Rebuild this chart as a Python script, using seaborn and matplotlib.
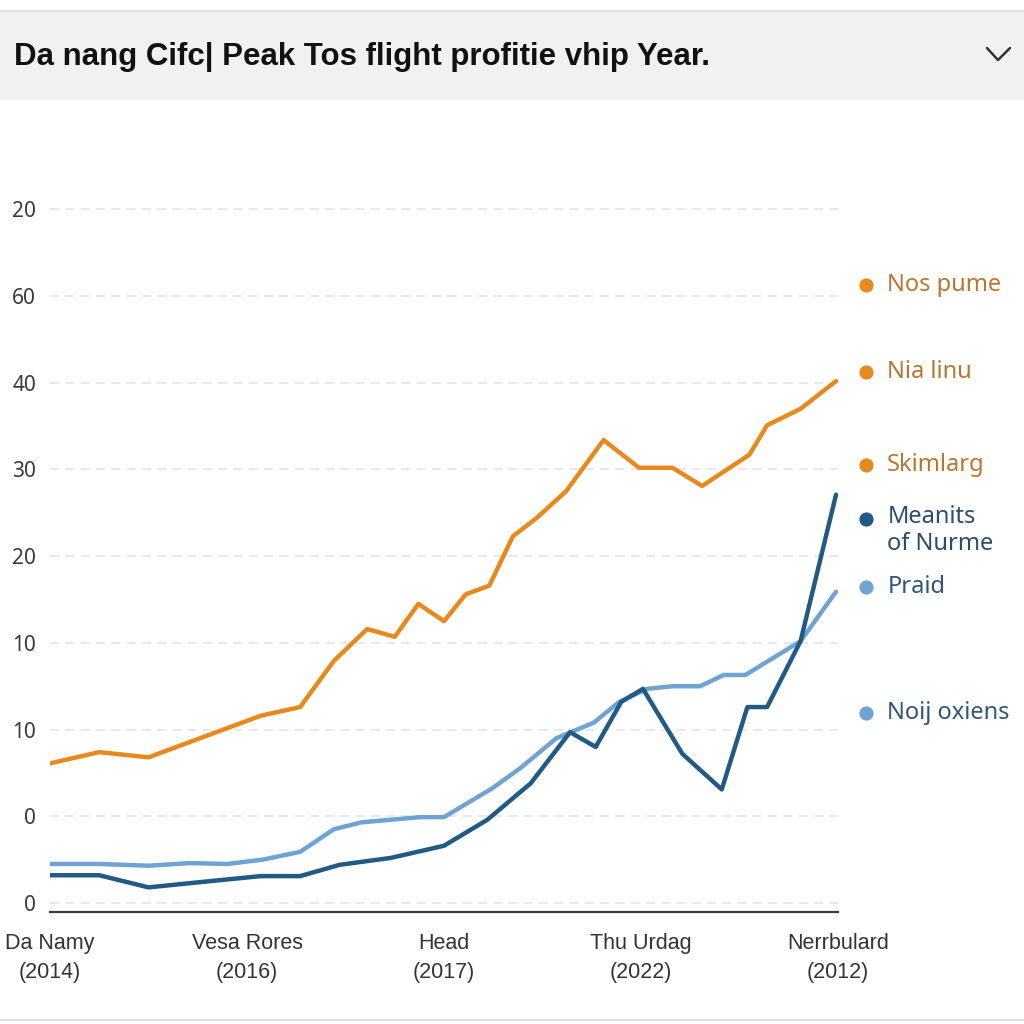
import numpy as np
import pandas as pd
import matplotlib
matplotlib.use("Agg")
import matplotlib.pyplot as plt
import seaborn as sns
from matplotlib.patches import Rectangle
from matplotlib.lines import Line2D

title = "Da nang Cifc| Peak Tos flight profitie vhip Year."

# x categories (positions 0..4 on the axis)
x_labels = ["Da Namy\n(2014)", "Vesa Rores\n(2016)", "Head\n(2017)",
            "Thu Urdag\n(2022)", "Nerrbulard\n(2012)"]
# y tick labels as printed, bottom to top (one per gridline)
y_labels = ["0", "0", "10", "10", "20", "30", "40", "60", "20"]

# series (x in category units, y in gridline units)
orange_x = [0.00, 0.25, 0.50, 1.07, 1.27, 1.44, 1.61, 1.75, 1.87, 2.00, 2.11, 2.23,
            2.35, 2.47, 2.62, 2.81, 2.99, 3.16, 3.31, 3.55, 3.64, 3.81, 3.99]
orange_y = [1.61, 1.74, 1.68, 2.16, 2.26, 2.79, 3.16, 3.07, 3.45, 3.25, 3.56, 3.66,
            4.23, 4.44, 4.75, 5.34, 5.02, 5.02, 4.81, 5.17, 5.51, 5.70, 6.02]

light_x = [0.00, 0.25, 0.50, 0.71, 0.90, 1.08, 1.27, 1.44, 1.58, 1.88, 2.00, 2.25,
           2.39, 2.57, 2.76, 2.89, 3.03, 3.16, 3.30, 3.42, 3.53, 3.81, 3.99]
light_y = [0.45, 0.45, 0.43, 0.46, 0.45, 0.50, 0.59, 0.85, 0.93, 0.99, 0.99, 1.33,
           1.56, 1.90, 2.08, 2.32, 2.47, 2.50, 2.50, 2.63, 2.63, 3.02, 3.59]

dark_x = [0.00, 0.25, 0.50, 0.76, 1.07, 1.27, 1.47, 1.73, 2.00, 2.22, 2.44, 2.64,
          2.77, 2.90, 3.01, 3.21, 3.41, 3.54, 3.64, 3.81, 3.99]
dark_y = [0.32, 0.32, 0.18, 0.24, 0.31, 0.31, 0.44, 0.52, 0.66, 0.96, 1.38, 1.97,
          1.80, 2.32, 2.47, 1.72, 1.31, 2.26, 2.26, 3.02, 4.71]

legend_labels = ["Nos pume", "Nia linu", "Skimlarg", "Meanits\nof Nurme", "Praid", "Noij oxiens"]
legend_kind = ["orange", "orange", "orange", "dark", "light", "light"]
legend_y = [7.13, 6.12, 5.05, 4.43, 3.64, 2.19]

colors = {"orange": "#E8891E", "dark": "#215A84", "light": "#6FA3D3"}
text_colors = {"orange": "#B8772F", "dark": "#2B4C6B", "light": "#30557C"}

df = pd.concat([
    pd.DataFrame({"x": orange_x, "y": orange_y, "series": "orange"}),
    pd.DataFrame({"x": light_x, "y": light_y, "series": "light"}),
    pd.DataFrame({"x": dark_x, "y": dark_y, "series": "dark"}),
])

sns.set_style("white")
plt.rcParams["font.family"] = ["Noto Sans", "DejaVu Sans"]
arial = ["Liberation Sans", "DejaVu Sans"]

fig = plt.figure(figsize=(10.24, 10.24), dpi=100)

# header bar
fig.patches.append(Rectangle((0, 1 - 100 / 1024), 1, 88 / 1024, transform=fig.transFigure,
                             facecolor="#F1F1F1", edgecolor="none", zorder=0))
fig.lines.append(Line2D([0, 1], [1 - 11 / 1024] * 2, transform=fig.transFigure,
                        color="#DCDCDC", lw=1.2))
fig.lines.append(Line2D([0, 1], [1 - 1020 / 1024] * 2, transform=fig.transFigure,
                        color="#DCDCDC", lw=1.5))
fig.text(14 / 1024, 1 - 57 / 1024, title, fontsize=22.5, fontweight="bold",
         va="center", ha="left", color="#111111", family=arial)
fig.lines.append(Line2D([987 / 1024, 998 / 1024, 1010 / 1024],
                        [1 - 48 / 1024, 1 - 60 / 1024, 1 - 48 / 1024],
                        transform=fig.transFigure, color="#333333", lw=1.8))

ax = fig.add_axes([50 / 1024, 1 - 912 / 1024, 788 / 1024, (912 - 183.4) / 1024])

sns.lineplot(data=df, x="x", y="y", hue="series", palette=colors, sort=False,
             estimator=None, linewidth=3.2, legend=False, ax=ax)
# dark line drawn above light one
for ln in ax.lines:
    if ln.get_color().lower() == colors["dark"].lower():
        ln.set_zorder(4)

ax.set_xlim(0, 4)
ax.set_ylim(-0.104, 8.3)
ax.set_xlabel("")
ax.set_ylabel("")

for i in range(len(y_labels)):
    ax.axhline(i, color="#E3E3E3", lw=1.1, ls=(0, (6, 4)), zorder=0)

ax.set_yticks(range(len(y_labels)))
ax.set_yticklabels(y_labels, fontsize=15, color="#3A3A3A")
ax.tick_params(axis="y", length=0, pad=10)

ax.set_xticks(range(len(x_labels)))
ax.set_xticklabels(x_labels, fontsize=15.5, color="#333333", family=arial, linespacing=1.5)
ax.tick_params(axis="x", length=0, pad=15)
ax.set_xticks([0, 2, 4], minor=True)
ax.tick_params(axis="x", which="minor", length=9, width=1.6, color="#3A3A3A", direction="out")

for s in ["top", "right", "left"]:
    ax.spines[s].set_visible(False)
ax.spines["bottom"].set_color("#3A3A3A")
ax.spines["bottom"].set_linewidth(1.6)

# side legend
for lab, kind, yy in zip(legend_labels, legend_kind, legend_y):
    ax.scatter([4.14], [yy], s=85, color=colors[kind], clip_on=False, zorder=5)
    if "\n" in lab:
        ax.text(4.25, yy + 0.16, lab, fontsize=17, color=text_colors[kind], va="top",
                ha="left", linespacing=1.15, clip_on=False)
    else:
        ax.text(4.25, yy, lab, fontsize=17, color=text_colors[kind], va="center",
                ha="left", clip_on=False)

fig.savefig("out.png", dpi=100)
